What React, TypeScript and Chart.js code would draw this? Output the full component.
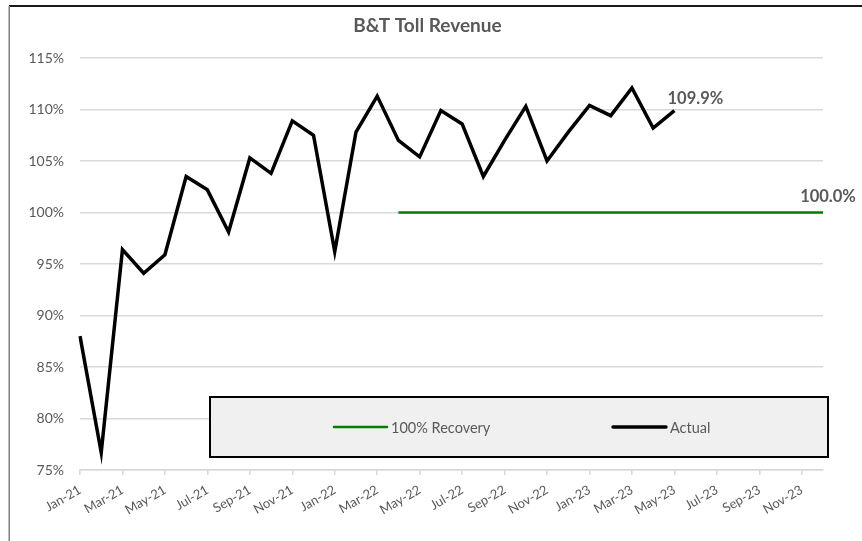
import React, { useEffect, useRef } from "react";
import { Chart, registerables } from "chart.js";

Chart.register(...registerables);

const months = [
  "Jan-21","Feb-21","Mar-21","Apr-21","May-21","Jun-21","Jul-21","Aug-21","Sep-21","Oct-21","Nov-21","Dec-21",
  "Jan-22","Feb-22","Mar-22","Apr-22","May-22","Jun-22","Jul-22","Aug-22","Sep-22","Oct-22","Nov-22","Dec-22",
  "Jan-23","Feb-23","Mar-23","Apr-23","May-23","Jun-23","Jul-23","Aug-23","Sep-23","Oct-23","Nov-23","Dec-23",
];

const actual = [
  88.0, 76.7, 96.4, 94.1, 95.9, 103.5, 102.2, 98.1, 105.3, 103.8, 108.9, 107.5,
  96.2, 107.8, 111.3, 107.0, 105.4, 109.9, 108.6, 103.5, 107.0, 110.3, 105.0, 107.8,
  110.4, 109.4, 112.1, 108.2, 109.9,
];

const recovery = [
  null, null, null, null, null, null, null, null, null, null, null, null,
  null, null, null, 100, 100, 100, 100, 100, 100, 100, 100, 100,
  100, 100, 100, 100, 100, 100, 100, 100, 100, 100, 100, 100,
];

const seriesLabels = ["100% Recovery", "Actual"];
const yTicks = { min: 75, max: 115, step: 5 };
const chartTitle = "B&T Toll Revenue";

const FONT = "Lato, 'Open Sans', sans-serif";
const GRAY = "#595959";

const decorPlugin = {
  id: "decor",
  afterDraw(chart: any) {
    const { ctx, chartArea } = chart;
    ctx.save();
    // outer frame
    ctx.strokeStyle = "#1a1a1a";
    ctx.lineWidth = 2;
    ctx.beginPath();
    ctx.moveTo(9, 6);
    ctx.lineTo(870, 6);
    ctx.stroke();
    ctx.strokeStyle = "#808080";
    ctx.lineWidth = 1.5;
    ctx.beginPath();
    ctx.moveTo(9.25, 6);
    ctx.lineTo(9.25, 560);
    ctx.stroke();

    // title
    ctx.font = `bold 19px ${FONT}`;
    ctx.fillStyle = GRAY;
    ctx.textAlign = "center";
    ctx.textBaseline = "middle";
    ctx.fillText(chartTitle, chart.width / 2 - 3.5, 26);

    // data labels: last point of each dataset
    ctx.font = `bold 16.5px ${FONT}`;
    const offsets = [
      { dx: 5, dy: -16 },
      { dx: 21, dy: -12 },
    ];
    chart.data.datasets.forEach((ds: any, di: number) => {
      const meta = chart.getDatasetMeta(di);
      let last = -1;
      ds.data.forEach((v: any, i: number) => {
        if (v !== null && v !== undefined) last = i;
      });
      if (last < 0) return;
      const el = meta.data[last];
      ctx.fillText(ds.data[last].toFixed(1) + "%", el.x + offsets[di].dx, el.y + offsets[di].dy);
    });

    // legend box
    const bx = chartArea.left + 130;
    const by = chartArea.bottom - 73;
    const bw = chartArea.right + 5 - bx;
    const bh = 60;
    ctx.fillStyle = "#f0f0f0";
    ctx.fillRect(bx, by, bw, bh);
    ctx.strokeStyle = "#000000";
    ctx.lineWidth = 2;
    ctx.strokeRect(bx, by, bw, bh);
    const cy = by + 30;
    const items = [
      { x: bx + 124, color: "#008000", width: 2.5 },
      { x: bx + 403, color: "#000000", width: 3.5 },
    ];
    ctx.font = `14.5px ${FONT}`;
    ctx.textAlign = "left";
    ctx.textBaseline = "middle";
    chart.data.datasets.forEach((ds: any, di: number) => {
      const it = items[di];
      ctx.strokeStyle = it.color;
      ctx.lineWidth = it.width;
      ctx.lineCap = "round";
      ctx.beginPath();
      ctx.moveTo(it.x, cy);
      ctx.lineTo(it.x + 53, cy);
      ctx.stroke();
      ctx.fillStyle = GRAY;
      ctx.fillText(ds.label, it.x + 57, cy + 1);
    });
    ctx.restore();
  },
};

export default function App() {
  const ref = useRef<HTMLCanvasElement | null>(null);
  useEffect(() => {
    if (!ref.current) return;
    const chart = new Chart(ref.current, {
      type: "line",
      data: {
        labels: months,
        datasets: [
          {
            label: seriesLabels[0],
            data: recovery,
            borderColor: "#008000",
            borderWidth: 2.5,
            pointRadius: 0,
            fill: false,
            spanGaps: false,
          },
          {
            label: seriesLabels[1],
            data: actual,
            borderColor: "#000000",
            borderWidth: 3.5,
            borderJoinStyle: "miter",
            pointRadius: 0,
            fill: false,
          },
        ],
      },
      options: {
        responsive: false,
        animation: false,
        events: [],
        layout: { padding: { left: 10, right: 39, top: 58, bottom: 11 } },
        plugins: {
          legend: { display: false },
          tooltip: { enabled: false },
          title: { display: false },
        },
        scales: {
          x: {
            offset: false,
            grid: {
              drawOnChartArea: false,
              drawTicks: true,
              tickLength: 5,
              color: "#d9d9d9",
              lineWidth: 1.5,
            },
            border: { display: true, color: "#d9d9d9", width: 1.5 },
            ticks: {
              autoSkip: false,
              minRotation: 30,
              maxRotation: 30,
              padding: 7,
              color: GRAY,
              font: { family: FONT, size: 13 },
              callback: (_v: any, i: number) => (i % 2 === 0 ? months[i] : null),
            },
            afterFit: (s: any) => {
              s.height = 60;
            },
          },
          y: {
            min: yTicks.min,
            max: yTicks.max,
            grid: { color: "#d9d9d9", lineWidth: 1.5, drawTicks: false },
            border: { display: false },
            ticks: {
              stepSize: yTicks.step,
              padding: 16,
              color: GRAY,
              font: { family: FONT, size: 14 },
              callback: (v: any) => v + "%",
            },
            afterFit: (s: any) => {
              s.width = 70;
            },
          },
        },
      },
      plugins: [decorPlugin],
    });
    return () => chart.destroy();
  }, []);
  return (
    <div style={{ position: "fixed", left: 0, top: 0, width: 862, height: 541, background: "#fff" }}>
      <canvas ref={ref} width={862} height={541} style={{ display: "block" }} />
    </div>
  );
}
